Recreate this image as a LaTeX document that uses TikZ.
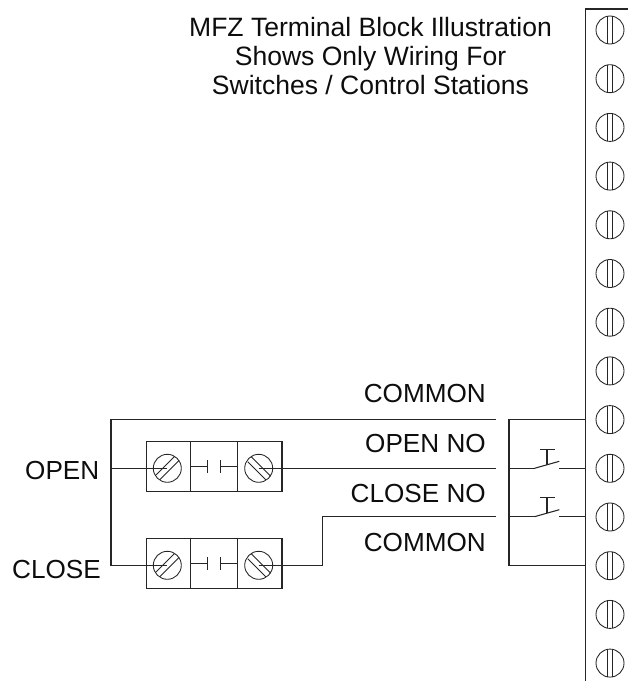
\documentclass[tikz,border=0pt]{standalone}
\usepackage{fontspec}
\setmainfont{Liberation Sans}
\tikzset{
  x=0.75pt,y=-0.75pt,
  wire/.style={line width=0.8pt,black!85},
  thin wire/.style={line width=0.65pt,black!85},
  lab/.style={inner sep=0pt,text=black!95,font=\fontsize{19.6pt}{22pt}\selectfont},
  titlelab/.style={inner sep=0pt,align=center,text=black!95,font=\fontsize{19.9pt}{22.1pt}\selectfont},
  bscrew/.pic={
    \draw[thin wire] (0,0) circle (14);
    \draw[thin wire] (-2.5,-13.7) -- (-2.5,13.7) (2.5,-13.7) -- (2.5,13.7);
  },
  sscrewA/.pic={
    \draw[thin wire] (0,0) circle (14);
    \draw[thin wire] (-11,6.5) -- (7,-11.5) (-7.5,11.5) -- (12,-8);
  },
  sscrewB/.pic={
    \draw[thin wire] (0,0) circle (14);
    \draw[thin wire] (-11,-6.5) -- (7,11.5) (-7.5,-11.5) -- (12,8);
  },
  contactblock/.pic={
    \draw[wire] (146.3,0) rectangle (282,50.4);
    \draw[wire] (190.7,0) -- (190.7,50.4) (237.7,0) -- (237.7,50.4);
    \draw[wire] (190.7,25.2) -- (207.7,25.2) (207.7,18.7) -- (207.7,31.7);
    \draw[wire] (237.7,25.2) -- (220.7,25.2) (220.7,18.7) -- (220.7,31.7);
    \pic at (167.3,27) {sscrewA};
    \pic at (258.7,27) {sscrewB};
  },
  pushbutton/.pic={
    \draw[wire] (0,0) -- (24.8,-7);
    \draw[wire] (12.5,-3.5) -- (12.5,-19) (5,-19) -- (20.5,-19);
  }
}
\begin{document}
\begin{tikzpicture}
\useasboundingbox (0,0) rectangle (628,681);
% terminal strip
\coordinate (stripTR) at (628,9);
\coordinate (stripTL) at (585.7,9);
\coordinate (stripBL) at (585.7,681);
\draw[wire] (stripTR) -- (stripTL) -- (stripBL);
\foreach \i in {0,...,13} \pic at (610,30+48.7*\i) {bscrew};
% title
\node[titlelab] (title) at (370.5,56) {MFZ Terminal Block Illustration\\Shows Only Wiring For\\Switches / Control Stations};
% labels
\node[lab,anchor=base east] (common1) at (486,402) {COMMON};
\node[lab,anchor=base east] (openno) at (486,452) {OPEN NO};
\node[lab,anchor=base east] (closeno) at (486,502) {CLOSE NO};
\node[lab,anchor=base east] (common2) at (486,551) {COMMON};
\node[lab,anchor=base east] (open) at (99.5,479) {OPEN};
\node[lab,anchor=base east] (close) at (101,578) {CLOSE};
% blocks
\pic at (0,441.3) {contactblock};
\pic at (0,538.3) {contactblock};
% wires
\coordinate (c1) at (111,419.7);
\coordinate (c1r) at (496,419.7);
\coordinate (o1) at (167.3,468.3);
\coordinate (o2) at (258.7,468.3);
\coordinate (o3) at (496,468.3);
\coordinate (d1) at (167.3,565.3);
\coordinate (d2) at (258.7,565.3);
\coordinate (d3) at (322.7,565.3);
\coordinate (d4) at (322.7,516.7);
\coordinate (d5) at (496,516.7);
\draw[wire] (c1r) -- (c1) -- (111,565.3) -- (d1);
\draw[wire] (111,468.3) -- (o1);
\draw[wire] (o2) -- (o3);
\draw[wire] (d2) -- (d3) -- (d4) -- (d5);
% right side
\draw[wire] (585.7,419.7) -- (509,419.7) -- (509,565.3) -- (585.7,565.3);
\draw[wire] (509,468.3) -- (534.5,468.3) (559.3,468.3) -- (585.7,468.3);
\draw[wire] (509,516.7) -- (534.5,516.7) (559.3,516.7) -- (585.7,516.7);
\pic at (534.5,468.3) {pushbutton};
\pic at (534.5,516.7) {pushbutton};
\end{tikzpicture}
\end{document}
